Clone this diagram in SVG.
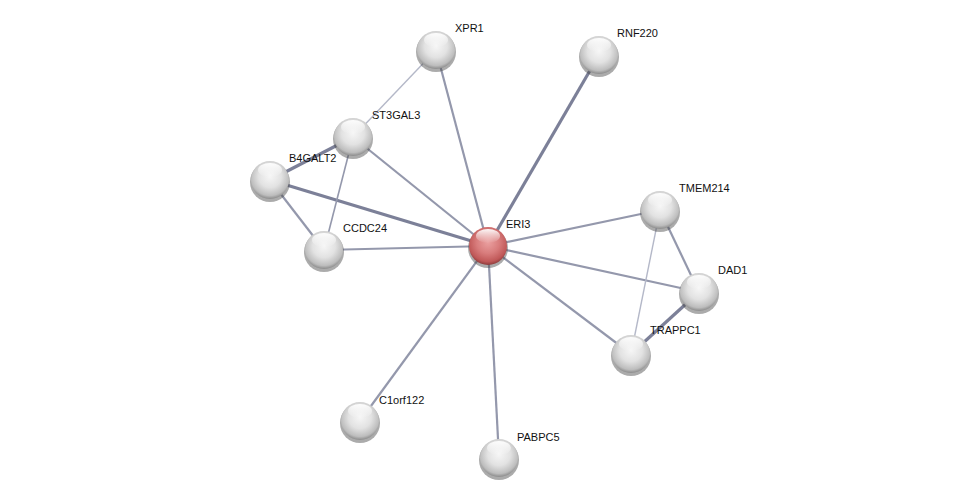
<svg xmlns="http://www.w3.org/2000/svg" width="975" height="504" viewBox="0 0 975 504">
<defs>
<radialGradient id="gw" cx="0.5" cy="0.4" r="0.6">
<stop offset="0" stop-color="#f6f6f6"/>
<stop offset="0.5" stop-color="#e2e2e2"/>
<stop offset="0.85" stop-color="#bdbdbd"/>
<stop offset="1" stop-color="#8a8a8a"/>
</radialGradient>
<radialGradient id="gr" cx="0.5" cy="0.4" r="0.6">
<stop offset="0" stop-color="#eaa0a0"/>
<stop offset="0.5" stop-color="#d87c7c"/>
<stop offset="0.85" stop-color="#c05858"/>
<stop offset="1" stop-color="#8c3c3c"/>
</radialGradient>
<linearGradient id="hl" x1="0" y1="0" x2="0" y2="1">
<stop offset="0" stop-color="#ffffff" stop-opacity="0.95"/>
<stop offset="1" stop-color="#ffffff" stop-opacity="0"/>
</linearGradient>
</defs>
<style>
.e{stroke:#9498ac;stroke-width:2.2;fill:none}
.t{stroke:#7c8098;stroke-width:3.2}
.l{stroke:#b4b8c8;stroke-width:1.4}
.s{fill:#444;opacity:0.45}
text{font-family:"Liberation Sans",Arial,sans-serif;font-size:11px;fill:#111}
</style>
<rect width="975" height="504" fill="#ffffff"/>
<g id="edges">
<line class="e" x1="488" y1="246" x2="436" y2="50"/>
<line class="e t" x1="488" y1="246" x2="599" y2="55"/>
<line class="e" x1="488" y1="246" x2="353" y2="137"/>
<line class="e t" x1="488" y1="246" x2="270" y2="180"/>
<line class="e" x1="488" y1="246" x2="324" y2="250"/>
<line class="e" x1="488" y1="246" x2="660" y2="210"/>
<line class="e" x1="488" y1="246" x2="699" y2="292"/>
<line class="e" x1="488" y1="246" x2="631" y2="354"/>
<line class="e" x1="488" y1="246" x2="360" y2="421"/>
<line class="e" x1="488" y1="246" x2="499" y2="458"/>
<line class="e l" x1="436" y1="50" x2="353" y2="137"/>
<line class="e t" x1="353" y1="137" x2="270" y2="180"/>
<line class="e" x1="353" y1="137" x2="324" y2="250" style="stroke-width:1.6"/>
<line class="e" x1="270" y1="180" x2="324" y2="250"/>
<line class="e" x1="660" y1="210" x2="699" y2="292"/>
<line class="e l" x1="660" y1="210" x2="631" y2="354"/>
<line class="e t" x1="699" y1="292" x2="631" y2="354"/>
</g>
<g id="XPR1"><circle class="s" cx="436" cy="52" r="20"/><circle cx="436" cy="50" r="19" fill="url(#gw)"/><ellipse cx="436" cy="40" rx="12" ry="7" fill="url(#hl)"/><text x="455" y="32">XPR1</text></g>
<g id="RNF220"><circle class="s" cx="599" cy="57" r="20"/><circle cx="599" cy="55" r="19" fill="url(#gw)"/><ellipse cx="599" cy="45" rx="12" ry="7" fill="url(#hl)"/><text x="617" y="37">RNF220</text></g>
<g id="ST3GAL3"><circle class="s" cx="353" cy="139" r="20"/><circle cx="353" cy="137" r="19" fill="url(#gw)"/><ellipse cx="353" cy="127" rx="12" ry="7" fill="url(#hl)"/><text x="372" y="119">ST3GAL3</text></g>
<g id="B4GALT2"><circle class="s" cx="270" cy="182" r="20"/><circle cx="270" cy="180" r="19" fill="url(#gw)"/><ellipse cx="270" cy="170" rx="12" ry="7" fill="url(#hl)"/><text x="289" y="162">B4GALT2</text></g>
<g id="CCDC24"><circle class="s" cx="324" cy="252" r="20"/><circle cx="324" cy="250" r="19" fill="url(#gw)"/><ellipse cx="324" cy="240" rx="12" ry="7" fill="url(#hl)"/><text x="343" y="232">CCDC24</text></g>
<g id="ERI3"><circle class="s" cx="488" cy="248" r="20"/><circle cx="488" cy="246" r="19" fill="url(#gr)"/><ellipse cx="488" cy="236" rx="12" ry="7" fill="url(#hl)"/><text x="506" y="228">ERI3</text></g>
<g id="TMEM214"><circle class="s" cx="660" cy="212" r="20"/><circle cx="660" cy="210" r="19" fill="url(#gw)"/><ellipse cx="660" cy="200" rx="12" ry="7" fill="url(#hl)"/><text x="679" y="192">TMEM214</text></g>
<g id="DAD1"><circle class="s" cx="699" cy="294" r="20"/><circle cx="699" cy="292" r="19" fill="url(#gw)"/><ellipse cx="699" cy="282" rx="12" ry="7" fill="url(#hl)"/><text x="718" y="274">DAD1</text></g>
<g id="TRAPPC1"><circle class="s" cx="631" cy="356" r="20"/><circle cx="631" cy="354" r="19" fill="url(#gw)"/><ellipse cx="631" cy="344" rx="12" ry="7" fill="url(#hl)"/><text x="650" y="334">TRAPPC1</text></g>
<g id="C1orf122"><circle class="s" cx="360" cy="423" r="20"/><circle cx="360" cy="421" r="19" fill="url(#gw)"/><ellipse cx="360" cy="411" rx="12" ry="7" fill="url(#hl)"/><text x="379" y="404">C1orf122</text></g>
<g id="PABPC5"><circle class="s" cx="499" cy="460" r="20"/><circle cx="499" cy="458" r="19" fill="url(#gw)"/><ellipse cx="499" cy="448" rx="12" ry="7" fill="url(#hl)"/><text x="517" y="441">PABPC5</text></g>
</svg>
